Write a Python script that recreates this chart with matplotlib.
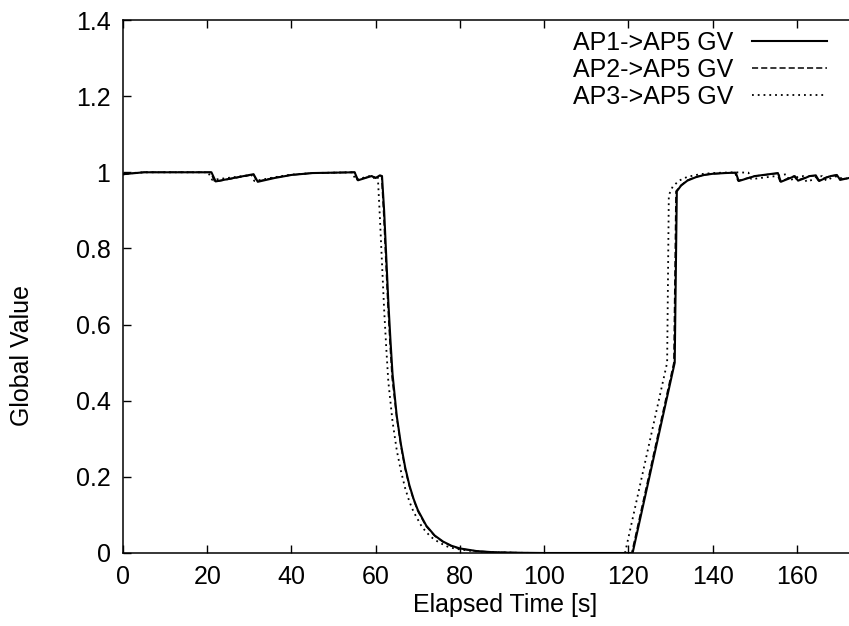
import matplotlib
matplotlib.use("Agg")
import matplotlib.pyplot as plt

plt.rcParams['font.family'] = ['Liberation Sans', 'DejaVu Sans']

# AP1 -> AP5 (solid)
t1 = [0, 2, 5, 21, 22, 31, 32, 36, 40, 45, 55, 55.8, 59, 60, 61, 61.5, 62, 62.5, 63, 63.5, 64,
      65, 66, 67, 68, 69, 70, 72, 74, 76, 78, 80, 84, 88, 95, 100, 121, 131, 131.5, 132.5, 134,
      136, 138, 140, 143, 145.5, 146.2, 150, 155.5, 156.2, 158, 159.5, 160.3, 162, 163, 164.5,
      165.3, 167, 168, 169.5, 170.3, 174.5]
v1 = [0.995, 0.997, 1.0, 1.0, 0.976, 0.995, 0.975, 0.985, 0.993, 0.998, 1.0, 0.979, 0.99, 0.985,
      0.992, 0.99, 0.90, 0.78, 0.66, 0.56, 0.47, 0.36, 0.285, 0.225, 0.178, 0.142, 0.113, 0.072,
      0.046, 0.030, 0.019, 0.012, 0.005, 0.002, 0.0005, 0.0, 0.0, 0.50, 0.95, 0.965, 0.978,
      0.987, 0.993, 0.996, 0.998, 0.999, 0.977, 0.99, 0.998, 0.975, 0.983, 0.99, 0.978, 0.985,
      0.99, 0.992, 0.977, 0.986, 0.99, 0.993, 0.98, 0.99]

# AP2 -> AP5 (dashed)
t2 = [0, 2, 5, 20.8, 21.8, 31, 31.8, 36, 40, 45, 55, 55.6, 59, 60, 61, 61.4, 61.9, 62.4, 62.9,
      63.4, 63.9, 65, 66, 67, 68, 69, 70, 72, 74, 76, 78, 80, 84, 88, 95, 100, 120.8, 130.8,
      131.3, 132.5, 134, 136, 138, 140, 143, 145.3, 146, 150, 155.3, 156, 158, 159.3, 160.1,
      162, 163, 164.3, 165.1, 167, 168, 169.3, 170.1, 174.5]
v2 = [0.994, 0.997, 1.0, 1.0, 0.975, 0.994, 0.976, 0.986, 0.993, 0.998, 1.0, 0.98, 0.99, 0.986,
      0.991, 0.99, 0.89, 0.77, 0.65, 0.55, 0.46, 0.355, 0.28, 0.22, 0.175, 0.14, 0.11, 0.07,
      0.045, 0.029, 0.018, 0.011, 0.005, 0.002, 0.0005, 0.0, 0.0, 0.50, 0.95, 0.966, 0.979,
      0.988, 0.993, 0.996, 0.998, 0.999, 0.978, 0.99, 0.997, 0.976, 0.984, 0.99, 0.979, 0.986,
      0.99, 0.991, 0.978, 0.987, 0.99, 0.992, 0.981, 0.99]

# AP3 -> AP5 (dotted)
t3 = [0, 2, 5, 20.2, 21.2, 30.5, 31.2, 36, 40, 45, 54.5, 55.2, 58.5, 59.5, 60.2, 60.5, 61,
      61.5, 62, 62.5, 63, 64, 65, 66, 67, 68, 69, 71, 73, 75, 77, 79, 83, 87, 94, 100, 119.2,
      129.2, 129.6, 130.5, 132, 134, 137, 140, 145, 148.5, 149.2, 155, 157.5, 158.2, 160, 161.5,
      162.3, 163.6, 164.5, 166, 167, 168.5, 169.5, 171, 174.5]
v3 = [0.996, 0.998, 1.0, 1.0, 0.98, 0.993, 0.977, 0.987, 0.994, 0.998, 1.0, 0.98, 0.99, 0.985,
      0.99, 0.99, 0.88, 0.76, 0.64, 0.54, 0.45, 0.345, 0.27, 0.215, 0.17, 0.135, 0.108, 0.068,
      0.043, 0.028, 0.017, 0.011, 0.005, 0.002, 0.0005, 0.0, 0.0, 0.50, 0.94, 0.962, 0.978,
      0.988, 0.995, 0.998, 1.0, 0.999, 0.982, 0.99, 0.995, 0.978, 0.987, 0.99, 0.975, 0.98,
      0.988, 0.99, 0.978, 0.987, 0.99, 0.982, 0.99]

labels = ["AP1->AP5 GV", "AP2->AP5 GV", "AP3->AP5 GV"]
xticks = [0, 20, 40, 60, 80, 100, 120, 140, 160]
yticks = [0, 0.2, 0.4, 0.6, 0.8, 1.0, 1.2, 1.4]
yticklabels = ["0", "0.2", "0.4", "0.6", "0.8", "1", "1.2", "1.4"]

W, H = 849, 626
FS = 18
fig = plt.figure(figsize=(W / 100, H / 100), dpi=100)
AX_L, AX_R, AX_T, AX_B = 123, 857.5, 20, 553
ax = fig.add_axes([AX_L / W, (H - AX_B) / H, (AX_R - AX_L) / W, (AX_B - AX_T) / H])

ax.plot(t1, v1, color='black', lw=1.5, ls='-', label=labels[0])
ax.plot(t2, v2, color='black', lw=1.1, ls=(0, (4, 2)), label=labels[1])
ax.plot(t3, v3, color='black', lw=1.3, ls=(0, (1, 2.2)), label=labels[2])

ax.set_xlim(0, 174.4)
ax.set_ylim(0, 1.4)
ax.set_xticks(xticks)
ax.set_xticklabels([str(x) for x in xticks])
ax.set_yticks(yticks)
ax.set_yticklabels(yticklabels)
ax.tick_params(direction='in', length=6, width=1.0, labelsize=FS, top=True, right=False,
               pad=9, colors='black')
for s in ['left', 'bottom', 'top']:
    ax.spines[s].set_linewidth(1.1)
ax.spines['right'].set_visible(False)

ax.set_xlabel("Elapsed Time [s]", fontsize=FS)
ax.xaxis.set_label_coords((505 - AX_L) / (AX_R - AX_L), -(605 - AX_B) / (AX_B - AX_T))
ax.xaxis.label.set_va('center')
ax.set_ylabel("Global Value", fontsize=FS)
ax.yaxis.set_label_coords(-(AX_L - 22) / (AX_R - AX_L), (AX_B - 356) / (AX_B - AX_T))
ax.yaxis.label.set_va('center')

leg = fig.legend(*ax.get_legend_handles_labels(), loc='upper right',
                 bbox_to_anchor=(827 / W, (H - 31) / H), frameon=False, fontsize=FS,
                 markerfirst=False, handlelength=3.0, handletextpad=0.75, labelspacing=0.12,
                 borderaxespad=0, borderpad=0)
for t in leg.get_texts():
    t.set_ha('right')

fig.savefig("out.png", dpi=100)
